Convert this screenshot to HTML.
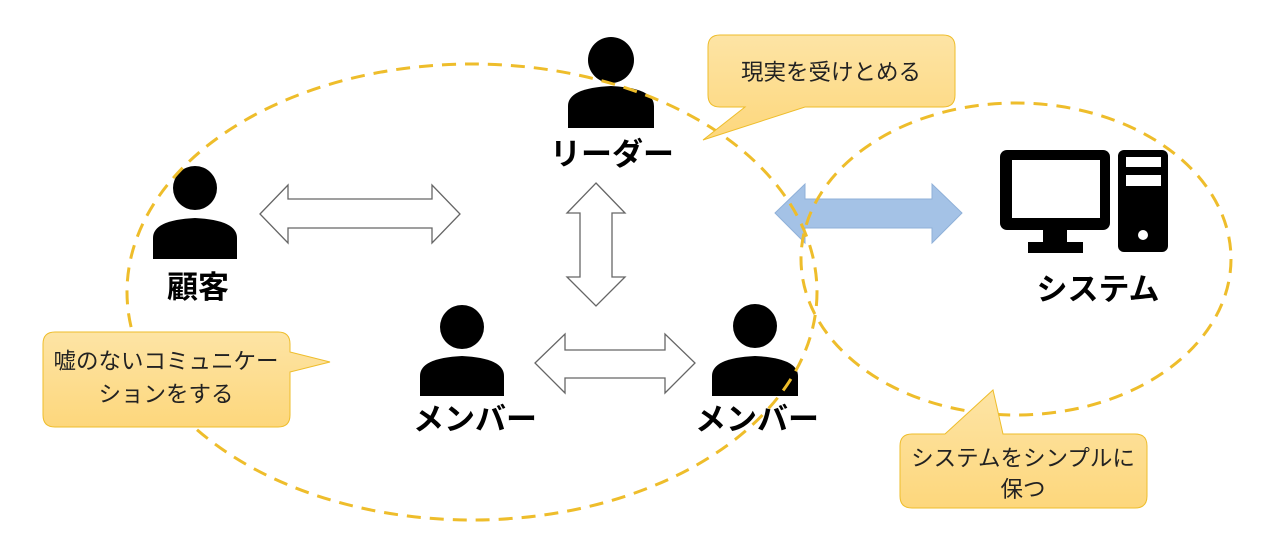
<!DOCTYPE html>
<html><head><meta charset="utf-8"><style>
html,body{margin:0;padding:0;background:#fff;}
svg{display:block;}
text{font-family:"Liberation Sans","Noto Sans CJK JP",sans-serif;}
.lbl{font-weight:bold;font-size:31px;fill:#000;text-anchor:middle;}
.co{font-size:22.5px;fill:#222;text-anchor:middle;}
</style></head><body>
<svg width="1274" height="548" viewBox="0 0 1274 548" xmlns="http://www.w3.org/2000/svg">
<defs>
<linearGradient id="g" x1="0" y1="0" x2="0" y2="1"><stop offset="0" stop-color="#fde4a5"/><stop offset="1" stop-color="#fdd77c"/></linearGradient>
</defs>
<polygon points="260,214 288,185 288,199 432,199 432,185 460,214 432,243 432,228 288,228 288,243" fill="#fff" stroke="#666" stroke-width="1.3"/>
<polygon points="596,183 625,213 612,213 612,277 625,277 596,306 567,277 580,277 580,213 567,213" fill="#fff" stroke="#666" stroke-width="1.3"/>
<polygon points="535,363 565,334 565,350 665,350 665,334 695,363 665,393 665,378 565,378 565,393" fill="#fff" stroke="#666" stroke-width="1.3"/>
<polygon points="775,213 805,184 805,199 932,199 932,184 962,213 932,243 932,228 805,228 805,243" fill="#a4c2e6" stroke="#8fb0d8" stroke-width="1"/>
<g fill="#000">
<circle cx="195" cy="188" r="22"/><path d="M153,259 V238 Q153,220 195,218 Q237,220 237,238 V259 Z"/>
<circle cx="611" cy="60" r="23"/><path d="M568,128 V106 Q568,88 611,86 Q654,88 654,106 V128 Z"/>
<circle cx="462" cy="327" r="22"/><path d="M420,396 V376 Q420,358 462,356 Q504,358 504,376 V396 Z"/>
<circle cx="755" cy="326" r="22"/><path d="M712,396 V376 Q712,358 755,356 Q798,358 798,376 V396 Z"/>
</g>
<text class="lbl" x="198" y="298">顧客</text>
<text class="lbl" x="612" y="165">リーダー</text>
<text class="lbl" x="475" y="430">メンバー</text>
<text class="lbl" x="757" y="430">メンバー</text>
<g fill="#000">
<rect x="1000" y="150" width="110" height="80" rx="7"/>
<rect x="1012" y="160" width="88" height="58" fill="#fff"/>
<rect x="1043" y="228" width="24" height="16"/>
<rect x="1028" y="242" width="55" height="11"/>
<rect x="1118" y="150" width="50" height="102" rx="6"/>
</g>
<rect x="1126" y="157" width="35" height="10" fill="#fff"/>
<rect x="1126" y="175" width="35" height="11" fill="#fff"/>
<circle cx="1143" cy="235" r="5" fill="#fff"/>
<text class="lbl" x="1098" y="300">システム</text>
<ellipse cx="472" cy="292" rx="345" ry="228" fill="none" stroke="#eebd2b" stroke-width="3" stroke-dasharray="14,9"/>
<ellipse cx="1016" cy="259" rx="215" ry="156" fill="none" stroke="#eebd2b" stroke-width="3" stroke-dasharray="14,9"/>
<path d="M720,35 H943 Q955,35 955,47 V95 Q955,107 943,107 H805 L703,140 L745,107 H720 Q708,107 708,95 V47 Q708,35 720,35 Z" fill="url(#g)" stroke="#eebd2b" stroke-width="1"/>
<text class="co" x="831" y="80">現実を受けとめる</text>
<path d="M55,332 H278 Q290,332 290,344 V352 L330,362 L290,372 V415 Q290,427 278,427 H55 Q43,427 43,415 V344 Q43,332 55,332 Z" fill="url(#g)" stroke="#eebd2b" stroke-width="1"/>
<text class="co" x="166" y="369">嘘のないコミュニケー</text>
<text class="co" x="166" y="402">ションをする</text>
<path d="M912,434 H945 L993,390 L1003,434 H1135 Q1147,434 1147,446 V496 Q1147,508 1135,508 H912 Q900,508 900,496 V446 Q900,434 912,434 Z" fill="url(#g)" stroke="#eebd2b" stroke-width="1"/>
<text class="co" x="1023" y="466">システムをシンプルに</text>
<text class="co" x="1023" y="497">保つ</text>
</svg>
</body></html>
